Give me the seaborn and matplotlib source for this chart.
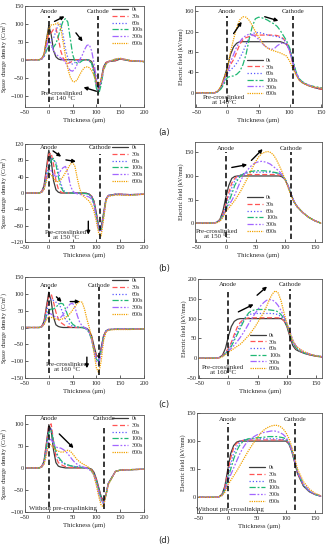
import matplotlib
matplotlib.use("Agg")
import matplotlib.pyplot as plt
from matplotlib.lines import Line2D
import numpy as np
import pandas as pd
import seaborn as sns

times = ["0s", "30s", "60s", "100s", "300s", "600s"]

# thickness grids (um)
x_sc = [-50, -20, -15, -10, -5, 0, 5, 10, 15, 20, 25, 30, 35, 40, 45, 50, 55, 60, 65, 70,
        75, 80, 85, 90, 95, 100, 105, 110, 115, 120, 125, 140, 150, 170, 200]
x_ef = [-50, -20, -15, -10, -5, 0, 5, 10, 15, 20, 25, 30, 35, 40, 45, 50, 55, 60, 65, 70,
        75, 80, 85, 90, 95, 100, 105, 110, 115, 120, 130, 140, 150, 160]

# ---- (a) pre-crosslinked at 140 C : space charge density (C/m3)
a_sc_0 = [0, 0, 3, 15, 55, 95, 70, 25, 8, 2, 0, 0, 0, 0, 0, 0, 0, 0, 0, 0, 0, 0, -1, -5, -25, -65, -82, -55, -20, -8, -5, -3, 2, -3, -5]
a_sc_30 = [0, 0, 2, 12, 45, 72, 75, 85, 88, 60, 25, 5, -5, -10, -8, -3, 0, 0, 0, 0, 0, -1, -3, -8, -30, -70, -85, -60, -22, -8, -5, -2, 2, -3, -5]
a_sc_60 = [0, 0, 2, 10, 40, 60, 55, 60, 80, 98, 100, 70, 30, 5, -10, -12, -8, -3, 0, 0, 0, 0, -3, -10, -35, -72, -88, -62, -25, -10, -6, 0, 3, -2, -5]
a_sc_100 = [0, 0, 2, 8, 25, 40, 35, 35, 45, 65, 88, 108, 115, 105, 60, 15, -5, -10, -8, -3, 0, 0, -3, -10, -40, -80, -95, -70, -30, -12, -6, 1, 3, -2, -6]
a_sc_300 = [0, 0, 2, 10, 35, 58, 45, 25, 15, 10, 5, 0, -8, -20, -30, -32, -25, -12, 0, 12, 28, 40, 42, 25, -10, -50, -75, -60, -28, -12, -6, 2, 4, -2, -5]
a_sc_600 = [0, 0, 3, 15, 55, 85, 97, 98, 100, 103, 90, 50, 10, -25, -48, -60, -62, -55, -42, -30, -22, -20, -22, -30, -45, -62, -70, -55, -28, -12, -6, 2, 4, -2, -5]
# electric field (kV/mm)
a_ef_0 = [0, 0, 3, 12, 30, 50, 75, 90, 97, 100, 100, 100, 100, 100, 100, 100, 100, 100, 100, 100, 100, 100, 100, 98, 95, 85, 60, 38, 26, 20, 14, 10, 7, 6]
a_ef_30 = [0, 0, 3, 10, 25, 42, 55, 65, 80, 95, 104, 108, 110, 112, 113, 113, 113, 113, 113, 113, 113, 112, 110, 106, 97, 82, 58, 38, 26, 20, 14, 10, 7, 6]
a_ef_60 = [0, 0, 3, 10, 22, 38, 45, 50, 58, 68, 80, 95, 108, 115, 118, 118, 117, 115, 113, 112, 111, 110, 108, 105, 98, 85, 62, 40, 27, 20, 14, 11, 8, 6]
a_ef_100 = [0, 0, 2, 8, 18, 30, 32, 33, 36, 42, 55, 75, 105, 130, 145, 148, 147, 145, 142, 138, 135, 130, 122, 112, 102, 88, 65, 42, 28, 22, 15, 12, 10, 8]
a_ef_300 = [0, 0, 3, 12, 25, 38, 60, 75, 90, 100, 108, 112, 115, 114, 110, 105, 98, 92, 88, 85, 86, 92, 96, 98, 95, 82, 60, 40, 27, 21, 15, 11, 9, 7]
a_ef_600 = [0, 0, 4, 14, 30, 45, 80, 105, 128, 143, 149, 148, 142, 132, 120, 110, 100, 92, 87, 84, 82, 80, 78, 75, 72, 62, 48, 35, 25, 20, 14, 11, 9, 7]

# ---- (b) pre-crosslinked at 150 C
b_sc_0 = [0, 0, 3, 18, 60, 105, 80, 30, 8, 2, 0, 0, 0, 0, 0, 0, 0, 0, 0, 0, 0, -1, -3, -8, -20, -50, -82, -85, -50, -15, -6, -3, -3, -4, -3]
b_sc_30 = [0, 0, 3, 15, 55, 95, 98, 70, 30, 10, 3, 0, 0, 0, 0, 0, 0, 0, 0, 0, 0, -1, -3, -8, -22, -52, -85, -88, -52, -16, -6, -3, -3, -4, -3]
b_sc_60 = [0, 0, 2, 12, 45, 65, 85, 80, 75, 55, 25, 8, 2, 0, 0, 0, 0, 0, 0, 0, 0, -1, -3, -9, -24, -55, -87, -90, -55, -17, -6, -3, -3, -4, -3]
b_sc_100 = [0, 0, 2, 10, 35, 55, 80, 85, 70, 40, 15, 5, 0, 0, 0, 0, 0, 0, 0, 0, -1, -2, -4, -10, -26, -57, -89, -92, -57, -18, -7, -4, -4, -5, -3]
b_sc_300 = [0, 0, 2, 10, 35, 55, 55, 45, 40, 45, 55, 62, 65, 50, 20, 5, 0, -2, -3, -5, -6, -8, -10, -15, -30, -62, -92, -95, -60, -19, -7, -4, -4, -5, -3]
b_sc_600 = [0, 0, 2, 8, 30, 48, 45, 35, 28, 28, 32, 40, 50, 60, 70, 75, 65, 35, 10, -5, -10, -15, -20, -30, -45, -70, -100, -105, -65, -20, -8, -5, -5, -6, -3]
b_ef_0 = [0, 0, 2, 8, 25, 55, 80, 95, 99, 100, 100, 100, 100, 100, 100, 100, 100, 100, 100, 100, 100, 100, 100, 100, 98, 92, 78, 60, 45, 35, 22, 12, 5, 0]
b_ef_30 = [0, 0, 2, 7, 20, 40, 65, 85, 95, 100, 102, 103, 103, 103, 103, 103, 103, 103, 103, 103, 103, 103, 103, 102, 100, 92, 78, 60, 45, 35, 22, 12, 5, 0]
b_ef_60 = [0, 0, 2, 6, 18, 35, 55, 75, 90, 98, 102, 105, 106, 107, 108, 108, 108, 108, 108, 108, 108, 107, 106, 105, 101, 93, 79, 61, 45, 35, 22, 12, 5, 0]
b_ef_100 = [0, 0, 2, 6, 16, 30, 45, 62, 80, 92, 100, 105, 107, 109, 110, 111, 111, 111, 111, 110, 110, 108, 107, 105, 101, 93, 79, 61, 45, 35, 22, 12, 5, 0]
b_ef_300 = [0, 0, 2, 5, 14, 28, 38, 48, 60, 75, 90, 102, 110, 118, 124, 128, 130, 131, 130, 128, 125, 120, 115, 110, 102, 92, 78, 61, 46, 36, 22, 12, 5, 0]
b_ef_600 = [0, 0, 1, 4, 12, 25, 32, 40, 48, 58, 68, 80, 92, 105, 118, 130, 140, 147, 150, 152, 150, 145, 135, 122, 108, 92, 75, 58, 45, 35, 22, 12, 5, 0]

# ---- (c) pre-crosslinked at 160 C
c_sc_0 = [0, 0, 3, 18, 62, 105, 78, 30, 8, 3, 1, 0, 0, 0, 0, 0, 0, 0, 0, 0, -1, -3, -10, -25, -55, -82, -88, -60, -25, -10, -6, -5, -5, -5, -4]
c_sc_30 = [0, 0, 3, 15, 55, 95, 100, 75, 45, 25, 15, 10, 5, 3, 1, 0, 0, 0, 0, 0, -1, -4, -12, -30, -60, -85, -92, -63, -26, -10, -6, -5, -5, -5, -4]
c_sc_60 = [0, 0, 2, 12, 45, 75, 85, 80, 75, 72, 60, 40, 25, 15, 8, 4, 2, 0, 0, 0, -1, -5, -14, -33, -65, -90, -95, -66, -27, -11, -6, -5, -5, -5, -4]
c_sc_100 = [0, 0, 2, 10, 35, 50, 55, 55, 60, 68, 72, 70, 55, 35, 20, 10, 5, 2, 0, 0, -2, -6, -16, -36, -70, -95, -100, -70, -28, -11, -7, -5, -5, -5, -4]
c_sc_300 = [0, 0, 2, 10, 30, 42, 40, 35, 30, 28, 30, 38, 50, 62, 70, 72, 60, 35, 15, 5, 0, -5, -15, -35, -70, -100, -110, -75, -30, -12, -7, -5, -5, -5, -4]
c_sc_600 = [0, 0, 2, 8, 22, 32, 30, 28, 25, 24, 24, 26, 30, 35, 42, 52, 62, 72, 77, 75, 55, 25, 0, -30, -75, -120, -135, -100, -40, -15, -8, -6, -6, -6, -4]
c_ef_0 = [0, 0, 2, 8, 25, 55, 80, 93, 98, 100, 100, 100, 100, 100, 100, 100, 100, 100, 100, 100, 100, 100, 100, 100, 95, 80, 55, 32, 22, 18, 12, 8, 5, 3]
c_ef_30 = [0, 0, 2, 7, 15, 25, 40, 60, 78, 90, 97, 100, 102, 102, 102, 102, 102, 102, 102, 102, 102, 102, 102, 100, 95, 82, 60, 38, 25, 19, 13, 8, 5, 3]
c_ef_60 = [0, 0, 2, 6, 13, 22, 35, 52, 68, 82, 95, 105, 110, 112, 113, 113, 113, 113, 113, 113, 113, 112, 110, 105, 98, 85, 62, 40, 27, 20, 13, 9, 6, 4]
c_ef_100 = [0, 0, 2, 5, 12, 20, 30, 45, 60, 75, 90, 105, 115, 120, 122, 123, 123, 123, 123, 122, 121, 120, 117, 110, 100, 85, 62, 40, 27, 20, 13, 9, 6, 4]
c_ef_300 = [0, 0, 2, 5, 11, 18, 25, 33, 42, 52, 63, 75, 88, 100, 112, 122, 132, 140, 146, 148, 147, 142, 133, 120, 105, 88, 68, 47, 32, 24, 15, 10, 7, 4]
c_ef_600 = [0, 0, 1, 4, 9, 15, 20, 25, 30, 35, 42, 50, 58, 68, 78, 90, 102, 115, 130, 148, 162, 170, 165, 145, 115, 88, 65, 45, 32, 25, 16, 10, 6, 4]

# ---- (d) without pre-crosslinking
d_sc_0 = [0, 0, 3, 15, 55, 98, 85, 40, 12, 4, 2, 1, 0, 0, 0, 0, 0, 0, 0, 0, 0, 0, -1, -3, -10, -25, -45, -65, -76, -60, -35, -8, -5, -4, -3]
d_sc_30 = [0, 0, 3, 15, 55, 95, 100, 60, 25, 12, 8, 5, 3, 2, 1, 1, 1, 0, 0, 0, 0, 0, -2, -5, -12, -27, -48, -68, -78, -62, -36, -8, -5, -4, -3]
d_sc_60 = [0, 0, 2, 13, 50, 88, 90, 60, 35, 22, 15, 10, 8, 6, 5, 4, 3, 3, 2, 1, 1, 0, -3, -6, -14, -30, -50, -70, -80, -62, -36, -8, -5, -4, -3]
d_sc_100 = [0, 0, 2, 12, 45, 80, 85, 60, 38, 25, 18, 12, 9, 7, 5, 4, 3, 2, 2, 1, 0, 0, -3, -7, -15, -32, -52, -72, -80, -62, -36, -8, -5, -4, -3]
d_sc_300 = [0, 0, 2, 10, 35, 62, 65, 55, 48, 45, 45, 42, 38, 32, 25, 18, 12, 8, 5, 3, 1, -1, -4, -8, -18, -35, -58, -78, -82, -62, -36, -8, -5, -4, -3]
d_sc_600 = [0, 0, 2, 8, 30, 55, 52, 45, 40, 38, 36, 36, 38, 40, 38, 32, 25, 18, 14, 10, 7, 4, 0, -6, -18, -40, -65, -85, -88, -62, -38, -8, -5, -4, -3]
d_ef_0 = [0, 0, 1, 5, 20, 50, 78, 92, 98, 100, 100, 100, 100, 100, 100, 100, 100, 100, 100, 100, 100, 100, 100, 100, 100, 100, 95, 82, 62, 42, 20, 10, 5, 2]
d_ef_30 = [0, 0, 1, 5, 18, 45, 70, 88, 96, 99, 101, 102, 102, 102, 102, 102, 102, 102, 102, 102, 102, 102, 102, 102, 102, 102, 96, 83, 63, 43, 21, 10, 5, 2]
d_ef_60 = [0, 0, 1, 4, 15, 38, 60, 78, 90, 97, 101, 103, 103, 104, 104, 104, 104, 104, 104, 104, 104, 104, 104, 103, 103, 102, 96, 84, 64, 44, 21, 10, 5, 2]
d_ef_100 = [0, 0, 1, 4, 13, 32, 50, 68, 82, 92, 98, 102, 104, 105, 105, 106, 106, 107, 107, 108, 108, 108, 108, 107, 106, 104, 97, 85, 65, 45, 22, 11, 5, 2]
d_ef_300 = [0, 0, 1, 3, 11, 28, 40, 52, 64, 76, 86, 94, 100, 104, 108, 111, 113, 115, 116, 117, 118, 118, 117, 115, 112, 107, 98, 85, 66, 46, 24, 12, 6, 2]
d_ef_600 = [0, 0, 1, 3, 9, 22, 30, 38, 46, 55, 64, 73, 82, 90, 98, 105, 112, 118, 122, 125, 127, 128, 128, 126, 122, 115, 105, 90, 70, 50, 28, 15, 7, 3]

sc_ticks_a = [-100, -50, 0, 50, 100, 150]
sc_ticks_b = [-120, -80, -40, 0, 40, 80, 120]
sc_ticks_c = [-150, -100, -50, 0, 50, 100, 150]
sc_ticks_d = [-100, -50, 0, 50, 100]
ef_ticks_a = [0, 40, 80, 120, 160]
ef_ticks_b = [0, 50, 100, 150]
ef_ticks_c = [-50, 0, 50, 100, 150, 200]
ef_ticks_d = [0, 50, 100, 150]
sc_xticks = [-50, 0, 50, 100, 150, 200]
ef_xticks = [-50, 0, 50, 100, 150]

# ---------------------------------------------------------------- style
sns.set_style("ticks")
plt.rcParams['font.family'] = ['Liberation Serif', 'DejaVu Serif']
plt.rcParams['mathtext.fontset'] = 'stix'
plt.rcParams['xtick.direction'] = 'in'
plt.rcParams['ytick.direction'] = 'in'

FS = 4.6
colors = {"0s": "#3c3c3c", "30s": "#ff5555", "60s": "#5a5aff",
          "100s": "#20b874", "300s": "#a366ff", "600s": "#f2a200"}
dashes = {"0s": "", "30s": (4, 2), "60s": (1, 1.6), "100s": (5, 1.5, 1.5, 1.5),
          "300s": (5, 1.4, 1.4, 1.4, 1.4, 1.4), "600s": (1, 0.8)}
LW = 0.9

fig = plt.figure(figsize=(3.32, 5.5), dpi=100)


def make_df(x, series):
    rows = []
    for t, ys in zip(times, series):
        for xv, yv in zip(x, ys):
            rows.append((xv, yv, t))
    return pd.DataFrame(rows, columns=["x", "y", "t"])


def handles():
    hs = []
    for t in times:
        if dashes[t] == "":
            hs.append(Line2D([], [], color=colors[t], lw=LW, linestyle='-'))
        else:
            hs.append(Line2D([], [], color=colors[t], lw=LW, dashes=dashes[t]))
    return hs


def panel(rect, x, series, xlim, ylim, xticks, yticks, ylabel, cathode,
          label_y, text, text_xy, leg_anchor, arrows):
    ax = fig.add_axes(rect)
    df = make_df(x, series)
    sns.lineplot(data=df, x="x", y="y", hue="t", style="t", hue_order=times,
                 style_order=times, palette=colors, dashes=dashes, lw=LW,
                 estimator=None, sort=False, legend=False, ax=ax)
    ax.set_xlim(*xlim)
    ax.set_ylim(*ylim)
    ax.set_xticks(xticks)
    ax.set_yticks(yticks)
    ax.tick_params(labelsize=FS, length=2, width=0.5)
    ax.tick_params(axis='x', pad=2.2)
    ax.tick_params(axis='y', pad=0.8)
    for s in ax.spines.values():
        s.set_linewidth(0.6)
        s.set_color("#555555")
    ax.set_xlabel("Thickness (μm)", fontsize=FS + 0.3, labelpad=1.2)
    ax.set_ylabel(ylabel, fontsize=4.4, labelpad=0.3)
    # electrodes
    ax.axvline(0, ymin=0.05, ymax=0.9, color='k', lw=1.1, dashes=(3.5, 2))
    ax.axvline(cathode, ymin=0.03, ymax=0.9, color='k', lw=1.1, dashes=(3.5, 2))
    ax.text(0, label_y, "Anode", fontsize=FS + 0.3, ha='center', va='center')
    ax.text(cathode, label_y, "Cathode", fontsize=FS + 0.3, ha='center', va='center')
    ax.text(text_xy[0], text_xy[1], text, fontsize=FS + 0.3, ha='center', va='center',
            linespacing=1.0)
    for (x0, y0, x1, y1) in arrows:
        ax.annotate("", xy=(x1, y1), xytext=(x0, y0),
                    arrowprops=dict(arrowstyle='-|>', color='k', lw=1.0,
                                    mutation_scale=5, shrinkA=0, shrinkB=0))
    ax.legend(handles(), times, loc=leg_anchor[0], bbox_to_anchor=leg_anchor[1],
              frameon=False, fontsize=4.3, handlelength=2.6, labelspacing=0.25,
              handletextpad=0.6, borderaxespad=0.1, borderpad=0.1)
    return ax


SCL = "Space charge density (C/m$^3$)"
EFL = "Electric field (kV/mm)"
FIGW, FIGH = 332.0, 550.0


def R(x0, y0, x1, y1):
    return [x0 / FIGW, 1 - y1 / FIGH, (x1 - x0) / FIGW, (y1 - y0) / FIGH]


# (a)
panel(R(25, 6, 144, 107), x_sc,
      [a_sc_0, a_sc_30, a_sc_60, a_sc_100, a_sc_300, a_sc_600],
      (-50, 200), (-132, 150), sc_xticks, sc_ticks_a, SCL, 104, 136,
      "Pre-crosslinked\nat 140 °C", (28, -100), ('upper right', (1.0, 1.0)),
      [(12, 107, 33, 121), (57, 75, 71, 51), (100, -88, 73, -77)])
panel(R(195, 6, 322, 107), x_ef,
      [a_ef_0, a_ef_30, a_ef_60, a_ef_100, a_ef_300, a_ef_600],
      (-52, 152), (-28, 170), ef_xticks, ef_ticks_a, EFL, 105, 160,
      "Pre-crosslinked\nat 140°C", (-5, -15), ('upper left', (0.4, 0.5)),
      [(10, 116, 23, 139), (60, 149, 82, 141)])

# (b)
panel(R(25, 144, 144, 242), x_sc,
      [b_sc_0, b_sc_30, b_sc_60, b_sc_100, b_sc_300, b_sc_600],
      (-50, 200), (-120, 120), sc_xticks, sc_ticks_b, SCL, 108, 111,
      "Pre-crosslinked\nat 150 °C", (36, -103), ('upper right', (1.0, 1.0)),
      [(9, 103, 26, 89), (36, 81, 57, 77), (83, -69, 83, -102)])
panel(R(195, 142, 322, 242), x_ef,
      [b_ef_0, b_ef_30, b_ef_60, b_ef_100, b_ef_300, b_ef_600],
      (-52, 162), (-40, 172), ef_xticks, ef_ticks_b, EFL, 110, 159,
      "Pre-crosslinked\nat 150 °C", (-15, -22), ('upper left', (0.4, 0.48)),
      [(10, 118, 36, 124), (43, 133, 62, 157)])

# (c)
panel(R(25, 277, 144, 378), x_sc,
      [c_sc_0, c_sc_30, c_sc_60, c_sc_100, c_sc_300, c_sc_600],
      (-50, 200), (-150, 150), sc_xticks, sc_ticks_c, SCL, 105, 126,
      "Pre-crosslinked\nat 160 °C", (38, -117), ('upper right', (1.0, 1.0)),
      [(16, 91, 27, 76), (45, 77, 65, 77), (80, -88, 80, -121)])
panel(R(198, 279, 322, 378), x_ef,
      [c_ef_0, c_ef_30, c_ef_60, c_ef_100, c_ef_300, c_ef_600],
      (-52, 160), (-50, 200), ef_xticks, ef_ticks_c, EFL, 105, 186,
      "Pre-crosslinked\nat 160 °C", (-10, -30), ('upper left', (0.41, 0.47)),
      [(17, 117, 43, 136), (49, 159, 66, 181)])

# (d)
panel(R(25, 415, 144, 512), x_sc,
      [d_sc_0, d_sc_30, d_sc_60, d_sc_100, d_sc_300, d_sc_600],
      (-50, 200), (-100, 120), sc_xticks, sc_ticks_d, SCL, 116, 113,
      "Without pre-crosslinking", (30, -91), ('upper right', (1.0, 1.0)),
      [(22, 77, 52, 45)])
panel(R(197, 413, 322, 513), x_ef,
      [d_ef_0, d_ef_30, d_ef_60, d_ef_100, d_ef_300, d_ef_600],
      (-53, 162), (-28, 150), ef_xticks, ef_ticks_d, EFL, 116, 138,
      "Without pre-crosslinking", (3, -22), ('upper left', (0.41, 0.49)),
      [])

for lab, yy in [("(a)", 133), ("(b)", 269), ("(c)", 404), ("(d)", 540)]:
    fig.text(164 / FIGW, 1 - yy / FIGH, lab, fontsize=6, ha='center', va='center',
             family=['DejaVu Sans'])

fig.savefig("out.png", dpi=100)
